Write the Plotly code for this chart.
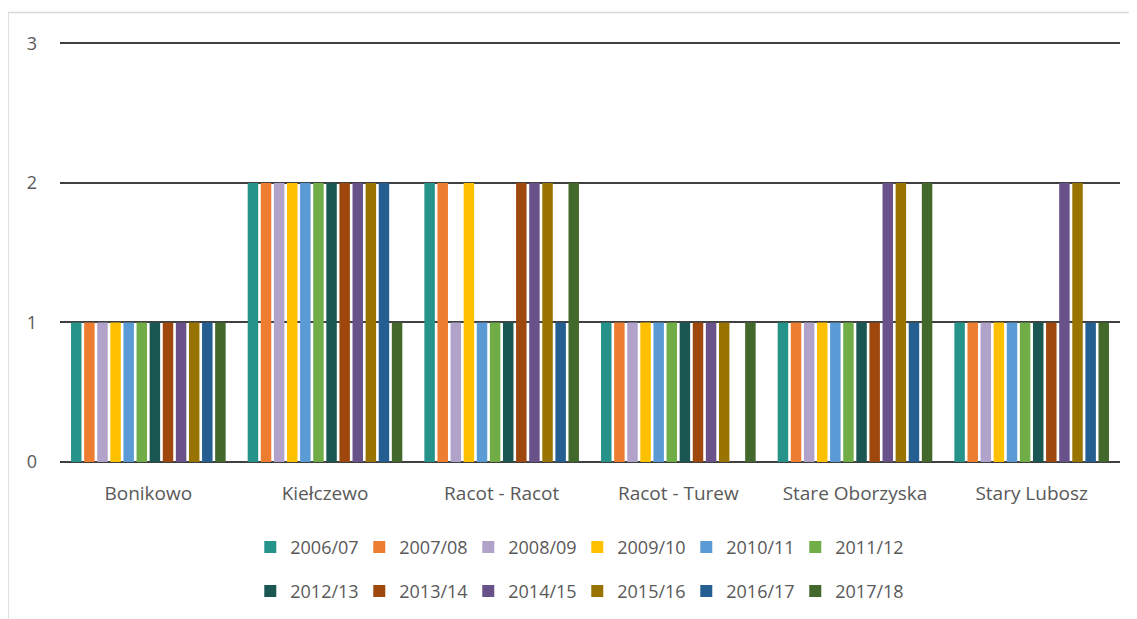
import plotly.graph_objects as go

categories = ["Bonikowo", "Kiełczewo", "Racot - Racot", "Racot - Turew", "Stare Oborzyska", "Stary Lubosz"]
seasons = ["2006/07", "2007/08", "2008/09", "2009/10", "2010/11", "2011/12",
           "2012/13", "2013/14", "2014/15", "2015/16", "2016/17", "2017/18"]
s2006_07 = [1, 2, 2, 1, 1, 1]
s2007_08 = [1, 2, 2, 1, 1, 1]
s2008_09 = [1, 2, 1, 1, 1, 1]
s2009_10 = [1, 2, 2, 1, 1, 1]
s2010_11 = [1, 2, 1, 1, 1, 1]
s2011_12 = [1, 2, 1, 1, 1, 1]
s2012_13 = [1, 2, 1, 1, 1, 1]
s2013_14 = [1, 2, 2, 1, 1, 1]
s2014_15 = [1, 2, 2, 1, 2, 2]
s2015_16 = [1, 2, 2, 1, 2, 2]
s2016_17 = [1, 2, 1, 0, 1, 1]
s2017_18 = [1, 1, 2, 1, 2, 1]
series = [s2006_07, s2007_08, s2008_09, s2009_10, s2010_11, s2011_12,
          s2012_13, s2013_14, s2014_15, s2015_16, s2016_17, s2017_18]
colors = ["#26938A", "#ED7D31", "#B1A2C9", "#FFC000", "#5B9BD5", "#70AD47",
          "#1A5752", "#9E480E", "#69528A", "#997300", "#255E91", "#43682B"]
tick_vals = [0, 1, 2, 3]

fig = go.Figure()
for i, (name, vals, col) in enumerate(zip(seasons, series, colors)):
    fig.add_trace(go.Bar(name=name, x=categories, y=vals, marker_color=col,
                         marker_line_width=0,
                         legend="legend" if i < 6 else "legend2"))

font_fam = "Open Sans, Liberation Sans, sans-serif"
txt = "#595959"
grid = "#404040"
leg_common = dict(orientation="h", x=0.488, xanchor="center", yanchor="middle",
                  entrywidth=64, entrywidthmode="pixels", itemwidth=30,
                  font=dict(family=font_fam, size=18, color=txt),
                  bgcolor="rgba(0,0,0,0)")
fig.update_layout(
    width=1129, height=611,
    barmode="group", bargap=0.11, bargroupgap=0.2,
    plot_bgcolor="white", paper_bgcolor="white",
    margin=dict(l=52, r=17, t=34, b=157, autoexpand=False),
    font=dict(family=font_fam, size=18, color=txt),
    xaxis=dict(showgrid=False, showline=False, ticks="", ticklabelstandoff=18,
               tickfont=dict(size=19, color=txt)),
    yaxis=dict(range=[0, 3.01], tickvals=tick_vals, showgrid=True, gridcolor=grid, gridwidth=1.5,
               zeroline=True, zerolinecolor=grid, zerolinewidth=1.5,
               ticklabelstandoff=22, tickfont=dict(size=18, color=txt)),
    legend=dict(y=-0.203, **leg_common),
    legend2=dict(y=-0.308, **leg_common),
    shapes=[
        dict(type="line", xref="paper", yref="paper", x0=-0.049, x1=1.02, y0=1.07, y1=1.07,
             line=dict(color="#D9D9D9", width=1.5)),
        dict(type="line", xref="paper", yref="paper", x0=-0.049, x1=-0.049, y0=1.07, y1=-0.4,
             line=dict(color="#D9D9D9", width=1.5)),
    ],
)
fig.write_html("out.html")
